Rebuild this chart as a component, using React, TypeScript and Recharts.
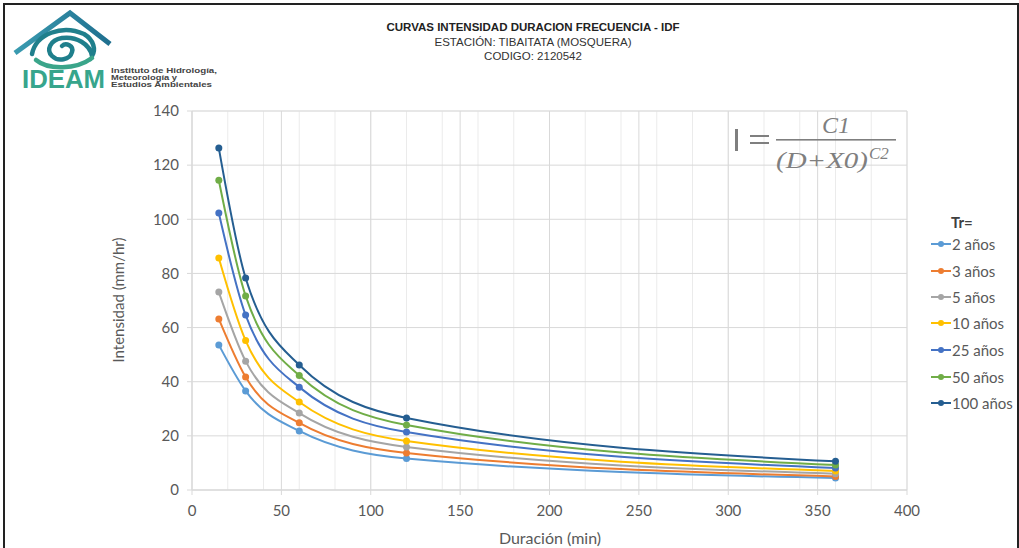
import React from 'react';
import { LineChart, Line, XAxis, YAxis, CartesianGrid } from 'recharts';

const durations = [15, 30, 60, 120, 360];
const seriesNames = ['2 años', '3 años', '5 años', '10 años', '25 años', '50 años', '100 años'];
const seriesKeys = ['tr2', 'tr3', 'tr5', 'tr10', 'tr25', 'tr50', 'tr100'];
const seriesColors = ['#5B9BD5', '#ED7D31', '#A5A5A5', '#FFC000', '#4472C4', '#70AD47', '#255E91'];
const tr2 = [53.6, 36.6, 21.8, 11.6, 4.4];
const tr3 = [63.2, 41.7, 24.8, 13.7, 5.0];
const tr5 = [73.1, 47.6, 28.4, 15.9, 6.0];
const tr10 = [85.7, 55.2, 32.5, 18.1, 7.0];
const tr25 = [102.3, 64.6, 38.0, 21.4, 8.1];
const tr50 = [114.4, 71.7, 42.3, 24.0, 9.2];
const tr100 = [126.3, 78.3, 46.2, 26.6, 10.6];
const seriesValues = [tr2, tr3, tr5, tr10, tr25, tr50, tr100];

const xTicks = [0, 50, 100, 150, 200, 250, 300, 350, 400];
const yTicks = [0, 20, 40, 60, 80, 100, 120, 140];
const xMinorTicks = Array.from({ length: 41 }, (_, i) => i * 10);
const yMinorTicks = Array.from({ length: 36 }, (_, i) => i * 4);

const data = durations.map((d, i) => {
  const row: Record<string, number> = { d };
  seriesKeys.forEach((k, s) => {
    row[k] = seriesValues[s][i];
  });
  return row;
});

const tickStyle = { fill: '#595959', fontSize: 15, fontFamily: 'Lato, sans-serif' };

function Logo() {
  const af = "'Liberation Sans', Arial, sans-serif";
  return (
    <svg width={225} height={95} style={{ position: 'absolute', left: 0, top: 0 }}>
      <defs>
        <linearGradient id="roof" x1="0" y1="0" x2="1" y2="0">
          <stop offset="0" stopColor="#3a9bb0" />
          <stop offset="1" stopColor="#1f6f8f" />
        </linearGradient>
      </defs>
      <polyline points="15,53 70,13 110,44" fill="none" stroke="url(#roof)" strokeWidth={5} strokeLinejoin="miter" />
      <path d="M32,54 C36,34 62,24 84,34 C94,40 96,50 92,56 C90,44 76,36 62,38 C50,40 46,50 52,56 C58,62 70,60 72,52 C74,46 66,42 62,46" fill="none" stroke="#1f7f8c" strokeWidth={4.5} strokeLinecap="round" />
      <path d="M36,60 C48,70 76,70 92,58" fill="none" stroke="#3aa58a" strokeWidth={4.5} strokeLinecap="round" />
      <text x={22} y={88} fontFamily={af} fontWeight="bold" fontSize={25} fill="#37a58c" textLength={83} lengthAdjust="spacingAndGlyphs">IDEAM</text>
      <text x={111} y={73} fontFamily={af} fontWeight="bold" fontSize={6.8} fill="#444" textLength={106} lengthAdjust="spacingAndGlyphs">Instituto de Hidrología,</text>
      <text x={111} y={80} fontFamily={af} fontWeight="bold" fontSize={6.8} fill="#444" textLength={66} lengthAdjust="spacingAndGlyphs">Meteorología y</text>
      <text x={111} y={87} fontFamily={af} fontWeight="bold" fontSize={6.8} fill="#444" textLength={101} lengthAdjust="spacingAndGlyphs">Estudios Ambientales</text>
    </svg>
  );
}

function Formula() {
  const ff = "'Liberation Serif', 'DejaVu Serif', serif";
  return (
    <svg width={200} height={70} style={{ position: 'absolute', left: 725, top: 110 }}>
      <rect x={10} y={19} width={3} height={22} fill="#7f7f7f" />
      <rect x={25} y={25} width={19} height={2} fill="#7f7f7f" />
      <rect x={25} y={32} width={19} height={2} fill="#7f7f7f" />
      <rect x={51} y={29} width={120} height={1.6} fill="#7f7f7f" />
      <text x={111} y={23} textAnchor="middle" fontFamily={ff} fontStyle="italic" fontSize={24} fill="#7f7f7f">C1</text>
      <text x={51} y={58} fontFamily={ff} fontStyle="italic" fontSize={24} fill="#7f7f7f" textLength={92} lengthAdjust="spacingAndGlyphs">(D+X0)</text>
      <text x={144} y={49} fontFamily={ff} fontStyle="italic" fontSize={17} fill="#7f7f7f">C2</text>
    </svg>
  );
}

function LegendBox() {
  const tops = [244, 271, 297, 323, 350, 377, 403];
  return (
    <div style={{ position: 'absolute', left: 0, top: 0 }}>
      <div style={{ position: 'absolute', left: 951, top: 212, fontFamily: 'Lato, sans-serif', fontWeight: 'bold', fontSize: 15, color: '#404040', lineHeight: '20px' }}>Tr=</div>
      {seriesNames.map((name, i) => (
        <div key={name} style={{ position: 'absolute', left: 930, top: tops[i] - 10, height: 20, display: 'flex', alignItems: 'center', whiteSpace: 'nowrap' }}>
          <svg width={22} height={20}>
            <line x1={1} y1={10} x2={21} y2={10} stroke={seriesColors[i]} strokeWidth={2} />
            <circle cx={11} cy={10} r={3} fill={seriesColors[i]} />
          </svg>
          <span style={{ fontFamily: 'Lato, sans-serif', fontSize: 15, color: '#595959', lineHeight: '20px' }}>{name}</span>
        </div>
      ))}
    </div>
  );
}

export default function App() {
  return (
    <div style={{ position: 'absolute', left: 0, top: 0, width: 1019, height: 548, background: '#fff', overflow: 'hidden' }}>
      <div style={{ position: 'absolute', left: 3, top: 3, width: 1012, height: 560, border: '2px solid #222', borderBottom: 'none' }} />
      <Logo />
      <div style={{ position: 'absolute', left: 0, top: 20, width: 1066, textAlign: 'center', fontFamily: "'Liberation Sans', Arial, sans-serif", color: '#222', fontSize: 11.5, lineHeight: '14.5px' }}>
        <div style={{ fontWeight: 'bold' }}>CURVAS INTENSIDAD DURACION FRECUENCIA - IDF</div>
        <div style={{ color: '#333' }}>ESTACIÓN: TIBAITATA (MOSQUERA)</div>
        <div style={{ color: '#333' }}>CODIGO: 2120542</div>
      </div>
      <div style={{ position: 'absolute', left: 0, top: 0 }}>
        <LineChart width={1019} height={548} data={data} margin={{ top: 111, right: 112, bottom: 28, left: 130 }}>
          <XAxis xAxisId="minor" type="number" dataKey="d" domain={[0, 400]} ticks={xMinorTicks} hide />
          <YAxis yAxisId="minor" type="number" domain={[0, 140]} ticks={yMinorTicks} hide />
          <CartesianGrid xAxisId="minor" yAxisId="minor" stroke="#ebebeb" strokeWidth={1} />
          <CartesianGrid stroke="#d9d9d9" strokeWidth={1} />
          <XAxis
            type="number"
            dataKey="d"
            domain={[0, 400]}
            ticks={xTicks}
            interval={0}
            stroke="#d9d9d9"
            tickSize={5}
            tickMargin={10}
            tick={tickStyle}
            height={30}
          />
          <YAxis
            type="number"
            domain={[0, 140]}
            ticks={yTicks}
            interval={0}
            stroke="#d9d9d9"
            tickSize={5}
            tickMargin={8}
            tick={tickStyle}
            width={62}
          />
          {seriesKeys.map((k, i) => (
            <Line
              key={k}
              type="monotone"
              dataKey={k}
              name={seriesNames[i]}
              stroke={seriesColors[i]}
              strokeWidth={2}
              dot={{ r: 3.5, fill: seriesColors[i], stroke: seriesColors[i], strokeWidth: 0 }}
              isAnimationActive={false}
            />
          ))}
        </LineChart>
      </div>
      <Formula />
      <LegendBox />
      <div style={{ position: 'absolute', left: 118, top: 300, transform: 'translate(-50%, -50%) rotate(-90deg)', fontFamily: 'Lato, sans-serif', fontSize: 15, color: '#595959', whiteSpace: 'nowrap' }}>Intensidad (mm/hr)</div>
      <div style={{ position: 'absolute', left: 550, top: 537, transform: 'translate(-50%, -50%)', fontFamily: 'Lato, sans-serif', fontSize: 16, color: '#595959', whiteSpace: 'nowrap' }}>Duración (min)</div>
    </div>
  );
}
